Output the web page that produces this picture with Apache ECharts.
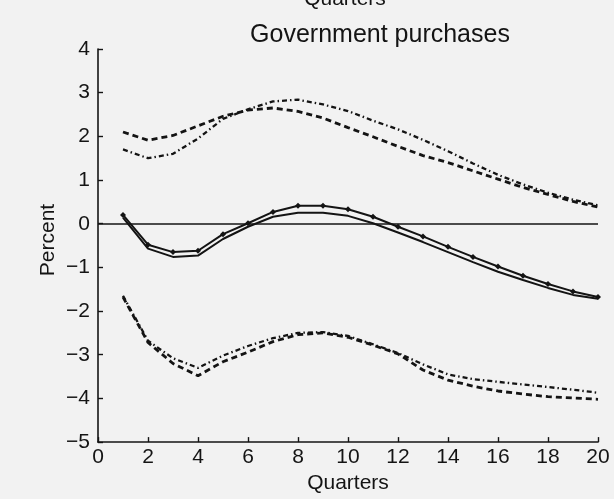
<!DOCTYPE html>
<html>
<head>
<meta charset="utf-8">
<script src="https://cdn.jsdelivr.net/npm/echarts@6/dist/echarts.min.js"></script>
<style>
  html, body { margin: 0; padding: 0; background: #f2f2f2; }
  #chart { width: 614px; height: 499px; }
</style>
</head>
<body>
<div id="chart"></div>
<script>
// Quarters after the shock
const quarters = [1, 2, 3, 4, 5, 6, 7, 8, 9, 10, 11, 12, 13, 14, 15, 16, 17, 18, 19, 20];

// Point responses (percent)
const responseMarked = [0.20, -0.48, -0.65, -0.62, -0.24, 0.01, 0.27, 0.41, 0.41, 0.33,
                        0.16, -0.07, -0.29, -0.53, -0.76, -0.98, -1.19, -1.38, -1.55, -1.68];
const responsePlain  = [0.14, -0.57, -0.76, -0.73, -0.35, -0.07, 0.16, 0.25, 0.25, 0.18,
                        0.01, -0.20, -0.42, -0.65, -0.88, -1.10, -1.29, -1.47, -1.63, -1.72];

// Upper confidence bounds
const upperDashed  = [2.10, 1.91, 2.02, 2.24, 2.46, 2.60, 2.65, 2.57, 2.42, 2.20,
                      1.99, 1.77, 1.56, 1.40, 1.21, 1.02, 0.83, 0.67, 0.51, 0.38];
const upperDashDot = [1.70, 1.50, 1.60, 1.95, 2.40, 2.62, 2.80, 2.84, 2.73, 2.58,
                      2.36, 2.16, 1.92, 1.66, 1.38, 1.12, 0.90, 0.71, 0.55, 0.42];

// Lower confidence bounds
const lowerDashed  = [-1.68, -2.72, -3.20, -3.48, -3.16, -2.94, -2.70, -2.54, -2.50, -2.60,
                      -2.78, -2.98, -3.35, -3.58, -3.72, -3.83, -3.90, -3.96, -3.99, -4.02];
const lowerDashDot = [-1.65, -2.68, -3.08, -3.30, -3.02, -2.80, -2.62, -2.50, -2.48, -2.57,
                      -2.76, -2.96, -3.22, -3.45, -3.56, -3.62, -3.68, -3.74, -3.80, -3.87];

// Axis ranges
const xRange = [0, 20];
const xStep = 2;
const yRange = [-5, 4];
const yStep = 1;

const pairs = arr => quarters.map((q, i) => [q, arr[i]]);
const FONT = '"Liberation Sans", Arial, Helvetica, sans-serif';
const INK = '#141414';

const chart = echarts.init(document.getElementById('chart'), null, { renderer: 'canvas' });

const dashedStyle  = { color: INK, width: 2.8, type: [6, 4] };
const dashDotStyle = { color: INK, width: 2.3, type: [5, 3, 1.5, 3] };

chart.setOption({
  backgroundColor: '#f2f2f2',
  animation: false,
  title: {
    text: 'Government purchases',
    left: 375, top: 18, textAlign: 'center',
    textStyle: { fontFamily: FONT, fontSize: 25, fontWeight: 'normal', color: INK }
  },
  graphic: [
    {
      type: 'text',
      style: { text: 'Percent', font: '21px ' + FONT, fill: INK,
               textAlign: 'center', textVerticalAlign: 'middle' },
      x: 48, y: 240, rotation: Math.PI / 2
    },
    {
      type: 'text',
      style: { text: 'Quarters', font: '21px ' + FONT, fill: INK,
               textAlign: 'center', textVerticalAlign: 'bottom' },
      x: 345, y: 10
    }
  ],
  grid: { left: 98, right: 16, top: 49, bottom: 50, containLabel: false },
  xAxis: {
    type: 'value', min: xRange[0], max: xRange[1], interval: xStep,
    name: 'Quarters', nameLocation: 'middle', nameGap: 29,
    nameTextStyle: { fontFamily: FONT, fontSize: 21, color: INK },
    axisLine: { show: true, onZero: false, lineStyle: { color: INK, width: 1.6 } },
    axisTick: { show: true, inside: true, length: 5, lineStyle: { color: INK, width: 1.4 } },
    axisLabel: { fontFamily: FONT, fontSize: 21, color: INK, margin: 5 },
    splitLine: { show: false }
  },
  yAxis: {
    type: 'value', min: yRange[0], max: yRange[1], interval: yStep,
    axisLine: { show: true, onZero: false, lineStyle: { color: INK, width: 1.6 } },
    axisTick: { show: true, inside: true, length: 5, lineStyle: { color: INK, width: 1.4 } },
    axisLabel: { fontFamily: FONT, fontSize: 21, color: INK, margin: 8,
                 formatter: v => String(v).replace('-', '\u2212') },
    splitLine: { show: false }
  },
  series: [
    { type: 'line', data: pairs(upperDashed),  showSymbol: false, lineStyle: dashedStyle },
    { type: 'line', data: pairs(upperDashDot), showSymbol: false, lineStyle: dashDotStyle },
    { type: 'line', data: pairs(lowerDashed),  showSymbol: false, lineStyle: dashedStyle },
    { type: 'line', data: pairs(lowerDashDot), showSymbol: false, lineStyle: dashDotStyle },
    {
      type: 'line', data: pairs(responsePlain), showSymbol: false,
      lineStyle: { color: INK, width: 2 }
    },
    {
      type: 'line', data: pairs(responseMarked),
      symbol: 'diamond', symbolSize: 6, showSymbol: true,
      itemStyle: { color: INK },
      lineStyle: { color: INK, width: 2 },
      markLine: {
        silent: true, symbol: 'none', label: { show: false },
        lineStyle: { color: INK, width: 1.5, type: 'solid' },
        data: [{ yAxis: 0 }]
      }
    }
  ]
});
</script>
</body>
</html>
